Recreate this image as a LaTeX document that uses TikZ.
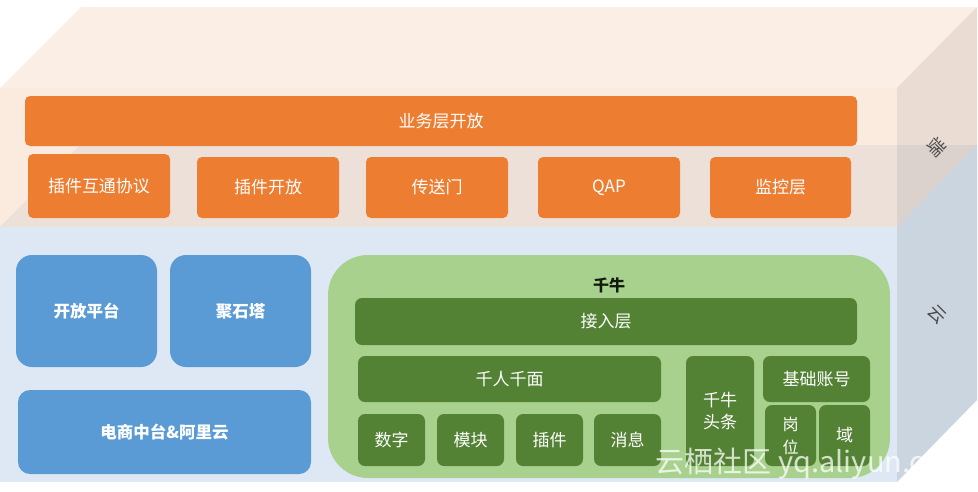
\documentclass[tikz,border=0pt]{standalone}
\usepackage{fontspec}
\setmainfont{Noto Sans CJK SC}
\begin{document}
\begin{tikzpicture}[x=1pt,y=-1pt,
  ob/.style={draw=none,rounded corners=5pt,text=white,font=\fontsize{17}{19}\selectfont},
  bb/.style={fill=bluebox,rounded corners=16pt,text=white,font=\fontsize{16.5}{18}\selectfont\bfseries},
  gb/.style={fill=darkg,rounded corners=7pt,text=white,font=\fontsize{17}{22}\selectfont,align=center},
  side/.style={font=\fontsize{18}{19}\selectfont,text=black!70,rotate=-45}]
\definecolor{orng}{HTML}{ED7D31}
\definecolor{bluebox}{HTML}{5B9BD5}
\definecolor{darkg}{HTML}{548235}
\definecolor{lightg}{HTML}{A9D18E}
\tikzset{ob/.append style={fill=orng}}
\useasboundingbox (0,0) rectangle (978,491);
% blue prism
\fill[fill={rgb,255:red,221;green,232;blue,244}] (0,227) rectangle (897,482);
\fill[fill={rgb,255:red,221;green,232;blue,244}] (0,227) -- (80,145) -- (977,145) -- (897,227) -- cycle;
\fill[fill={rgb,255:red,203;green,213;blue,223}] (897,227) -- (977,145) -- (977,400) -- (897,482) -- cycle;
% peach prism (translucent)
\fill[fill={rgb,255:red,249;green,220;blue,200},opacity=0.6] (0,88) rectangle (897,227);
\fill[fill={rgb,255:red,249;green,226;blue,210},opacity=0.6] (0,88) -- (81,7) -- (977,7) -- (897,88) -- cycle;
\fill[fill={rgb,255:red,220;green,196;blue,180},opacity=0.6] (897,88) -- (977,7) -- (977,145) -- (897,227) -- cycle;
% top layer
\node[ob,minimum width=832pt,minimum height=50pt] (biz) at (441,121) {业务层开放};
\node[ob,minimum width=142pt,minimum height=64pt] (p1) at (99,186) {插件互通协议};
\node[ob,minimum width=142pt,minimum height=61pt] (p2) at (268,187.5) {插件开放};
\node[ob,minimum width=142pt,minimum height=61pt] (p3) at (437,187.5) {传送门};
\node[ob,minimum width=142pt,minimum height=61pt] (p4) at (609,187.5) {QAP};
\node[ob,minimum width=141pt,minimum height=61pt] (p5) at (780.5,187.5) {监控层};
% blue boxes
\node[bb,minimum width=141pt,minimum height=112pt] (kf) at (86.5,311) {开放平台};
\node[bb,minimum width=141pt,minimum height=112pt] (js) at (240.5,311) {聚石塔};
\node[bb,rounded corners=12pt,minimum width=293pt,minimum height=84pt] (ds) at (164.5,432) {电商中台\&阿里云};
% green
\node[fill=lightg,rounded corners=40pt,minimum width=562pt,minimum height=223pt] (qn) at (609,366.5) {};
\node[font=\fontsize{16}{18}\selectfont\bfseries,text=black!80!darkg] (qnt) at (609,285) {千牛};
\node[gb,minimum width=502pt,minimum height=47pt] (jr) at (606,321.5) {接入层};
\node[gb,minimum width=303pt,minimum height=46pt] (qr) at (509.5,379) {千人千面};
\node[gb,minimum width=67pt,minimum height=52pt] (sz) at (391.5,440) {数字};
\node[gb,minimum width=67pt,minimum height=52pt] (mk) at (470.5,440) {模块};
\node[gb,minimum width=67pt,minimum height=52pt] (cj) at (549.5,440) {插件};
\node[gb,minimum width=67pt,minimum height=52pt] (xx) at (627.5,440) {消息};
\node[gb,text width=50pt,minimum width=68pt,minimum height=110pt] (tt) at (720,411) {千牛\\头条};
\node[gb,minimum width=107pt,minimum height=46pt] (zh) at (816.5,379) {基础账号};
\node[gb,font=\fontsize{16}{23}\selectfont,inner sep=1pt,text width=30pt,minimum width=51pt,minimum height=61pt] (gw) at (790.5,435.5) {岗\\位};
\node[gb,minimum width=51pt,minimum height=61pt] (yu) at (844.5,435.5) {域};
% side labels
\node[side] (duan) at (937,147) {端};
\node[side] (yun) at (937,315) {云};
% watermark
\node[text=white,opacity=0.75,font=\fontsize{29}{31}\selectfont,anchor=east] (wm) at (972,464) {云栖社区 yq.aliyun.com};
\end{tikzpicture}
\end{document}
